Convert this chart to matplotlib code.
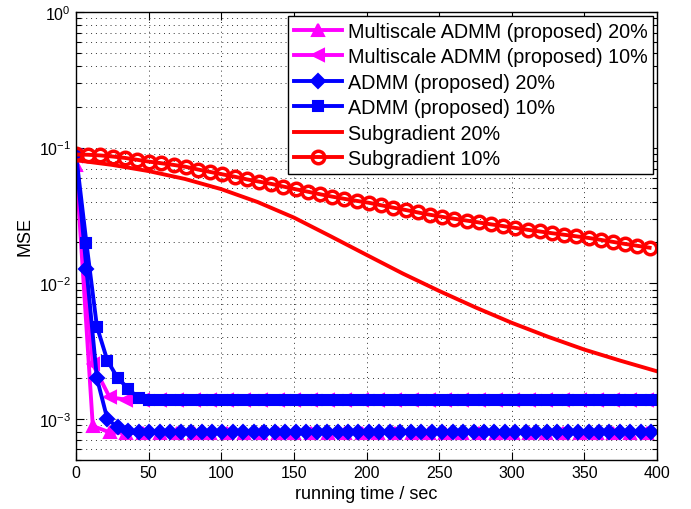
import numpy as np
import matplotlib
matplotlib.use("Agg")
import matplotlib.pyplot as plt
from matplotlib.ticker import LogLocator, NullFormatter, MultipleLocator

plt.rcParams['font.family'] = ['Liberation Sans', 'DejaVu Sans']
plt.rcParams['mathtext.fontset'] = 'custom'
plt.rcParams['mathtext.rm'] = 'Liberation Sans'

# ---------------------------------------------------------------------------
# Datos (tiempo en segundos, MSE)
# ---------------------------------------------------------------------------
# paso de tiempo entre iteraciones marcadas
paso_multiescala = 11.56
paso_admm = 7.2
paso_subgrad = 8.4

mse_multi_20 = [0.075, 0.00089, 0.00080] + [0.00079] * 32
mse_multi_10 = [0.086, 0.00254, 0.00145] + [0.00139] * 32
mse_admm_20 = [0.085, 0.0127, 0.0020, 0.0010, 0.00087, 0.00082] + [0.00081] * 50
mse_admm_10 = [0.0889, 0.0197, 0.0048, 0.0027, 0.0020, 0.00168, 0.00142,
               0.00139] + [0.00138] * 48

t_subgrad_20 = [0, 25, 50, 75, 100, 125, 150, 175, 200, 225, 250, 275,
                300, 325, 350, 375, 400]
mse_subgrad_20 = [0.0807, 0.0745, 0.0671, 0.0587, 0.0494, 0.0397, 0.0305,
                  0.0223, 0.0162, 0.0118, 0.00879, 0.00665, 0.00512,
                  0.00404, 0.00325, 0.00269, 0.00225]

mse_subgrad_10 = [0.0889, 0.0885, 0.0875, 0.0859, 0.0839, 0.0813, 0.0787,
                  0.0766, 0.0745, 0.0721, 0.0689, 0.0661, 0.0635, 0.0610,
                  0.0583, 0.0561, 0.0540, 0.0516, 0.0493, 0.0473, 0.0453,
                  0.0435, 0.0419, 0.0405, 0.0392, 0.0376, 0.0361, 0.0347,
                  0.0333, 0.0320, 0.0309, 0.0299, 0.0290, 0.0281, 0.0272,
                  0.0264, 0.0256, 0.0248, 0.0241, 0.0234, 0.0228, 0.0222,
                  0.0216, 0.0209, 0.0202, 0.0195, 0.0189, 0.0183]

etiquetas = ["Multiscale ADMM (proposed) 20%",
             "Multiscale ADMM (proposed) 10%",
             "ADMM (proposed) 20%",
             "ADMM (proposed) 10%",
             "Subgradient 20%",
             "Subgradient 10%"]

t_multi_20 = np.arange(len(mse_multi_20)) * paso_multiescala
t_multi_10 = np.arange(len(mse_multi_10)) * paso_multiescala
t_admm_20 = np.arange(len(mse_admm_20)) * paso_admm
t_admm_10 = np.arange(len(mse_admm_10)) * paso_admm
t_subgrad_10 = np.arange(len(mse_subgrad_10)) * paso_subgrad

# ---------------------------------------------------------------------------
# Grafica
# ---------------------------------------------------------------------------
fig = plt.figure(figsize=(6.91, 5.10), dpi=100)
ax = fig.add_axes([0.110, 0.096, 0.841, 0.879])

lw = 2.8
magenta = '#FF00FF'
azul = '#0000FF'
rojo = '#FF0000'

ax.plot(t_multi_20, mse_multi_20, color=magenta, lw=lw, marker='^',
        ms=9, mfc=magenta, mew=1.5, label=etiquetas[0])
ax.plot(t_multi_10, mse_multi_10, color=magenta, lw=lw, marker='<',
        ms=9, mfc=magenta, mew=1.5, label=etiquetas[1])
ax.plot(t_admm_20, mse_admm_20, color=azul, lw=lw, marker='D',
        ms=7, mfc=azul, mew=1.5, label=etiquetas[2])
ax.plot(t_admm_10, mse_admm_10, color=azul, lw=lw, marker='s',
        ms=7, mfc=azul, mew=1.5, label=etiquetas[3])
ax.plot(t_subgrad_20, mse_subgrad_20, color=rojo, lw=lw,
        label=etiquetas[4])
ax.plot(t_subgrad_10, mse_subgrad_10, color=rojo, lw=lw, marker='o',
        ms=9, mfc='none', mew=2.5, label=etiquetas[5])

ax.set_yscale('log')
ax.set_xlim(0, 400)
ax.set_ylim(5e-4, 1)
ax.xaxis.set_major_locator(MultipleLocator(50))
ax.yaxis.set_major_locator(LogLocator(base=10, numticks=10))
ax.yaxis.set_minor_locator(LogLocator(base=10, subs=np.arange(2, 10), numticks=20))
ax.yaxis.set_minor_formatter(NullFormatter())

estilo_grid = dict(linestyle=(0, (1, 4)), color='0.2', linewidth=0.7)
ax.grid(True, which='major', **estilo_grid)
ax.grid(True, which='minor', axis='y', **estilo_grid)

ax.tick_params(which='both', direction='in', top=True, right=True,
               labelsize=11.5, width=0.8)
ax.tick_params(which='major', length=6)
ax.tick_params(which='minor', length=3.5)
for s in ax.spines.values():
    s.set_linewidth(1.0)

ax.set_xlabel("running time / sec", fontsize=13, labelpad=4)
ax.set_ylabel("MSE", fontsize=13, labelpad=4)

leg = ax.legend(loc='upper right', fontsize=14.2, numpoints=1,
                handlelength=2.4, handletextpad=0.3, labelspacing=0.33,
                borderpad=0.3, borderaxespad=0.2, fancybox=False,
                framealpha=1, edgecolor='black')
leg.get_frame().set_linewidth(1.0)

plt.savefig("out.png", dpi=100)
